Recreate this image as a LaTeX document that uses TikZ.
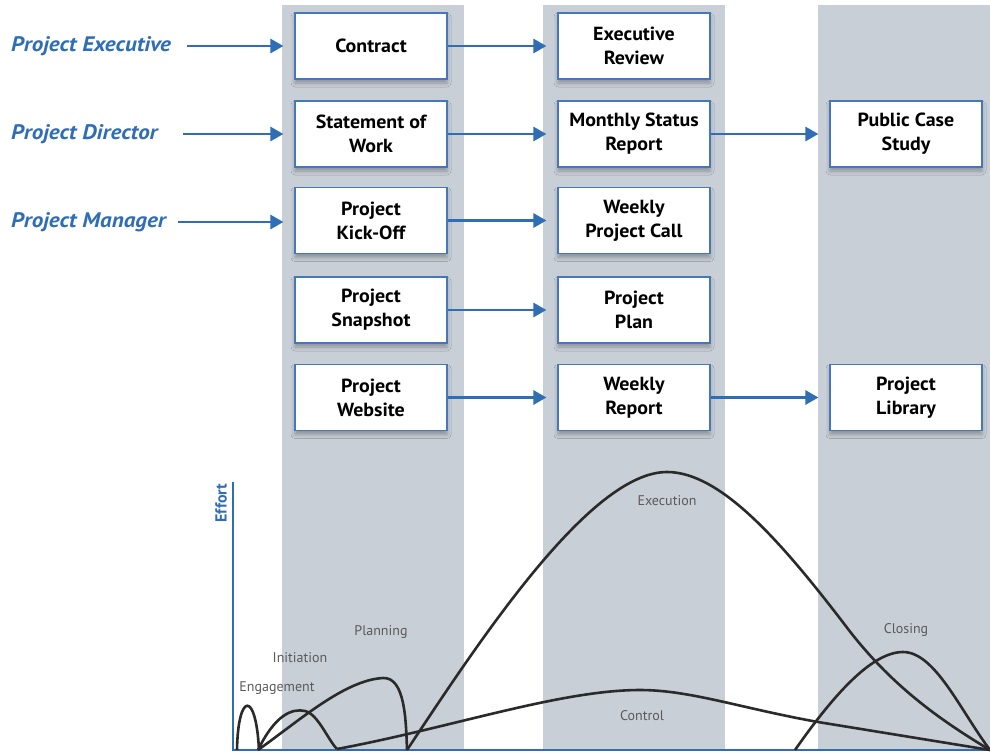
\documentclass[tikz,border=0pt]{standalone}
\usepackage{fontspec}
\setmainfont{PT Sans}
\newfontfamily\rolefont[FakeStretch=1.1]{PT Sans}
\newfontfamily\boxfont[FakeStretch=1.05]{PT Sans}
\usetikzlibrary{arrows.meta,shadows.blur}
\definecolor{band}{HTML}{C9CFD7}
\definecolor{bblue}{HTML}{2F6DB5}
\definecolor{boxline}{HTML}{4677BD}
\definecolor{curve}{HTML}{2A2A2A}
\definecolor{lbl}{HTML}{5A5A5A}
\tikzset{
  box/.style={draw=boxline, line width=1.2pt, fill=white, minimum width=152pt,
    minimum height=66pt, inner sep=0pt, align=center,
    font=\boxfont\fontsize{19}{24}\selectfont\bfseries,
    blur shadow={shadow xshift=0pt, shadow yshift=-4pt, shadow blur radius=4pt, shadow opacity=30}},
  arr/.style={draw=bblue, line width=2.8pt, -{Triangle[length=13pt,width=14pt]}, shorten >=11pt},
  role/.style={anchor=west, text=bblue, font=\rolefont\fontsize{21}{23}\selectfont\bfseries\itshape, inner sep=0pt},
  crv/.style={draw=curve, line width=2.6pt},
  phase/.style={text=lbl, font=\fontsize{14}{16}\selectfont, inner sep=0pt},
  axisline/.style={draw=bblue, line width=2.8pt},
}
\begin{document}
\begin{tikzpicture}[x=1pt,y=-1pt]
\useasboundingbox (0,0) rectangle (990,753);
\fill[white] (0,0) rectangle (990,753);
% bands
\fill[band] (282,5) rectangle (464,751);
\fill[band] (543,5) rectangle (725,751);
\fill[band] (818,5) rectangle (990,751);

% role labels
\node[role] (pe) at (11,46) {Project Executive};
\node[role] (pd) at (11,134) {Project Director};
\node[role] (pm) at (11,222) {Project Manager};
\coordinate (s1) at (187,46);
\coordinate (s2) at (183,134);
\coordinate (s3) at (178,222);

% boxes
\node[box] (contract) at (371,46) {Contract};
\node[box] (sow) at (371,134) {Statement of\\Work};
\node[box] (kick) at (371,220.5) {Project\\Kick-Off};
\node[box] (snap) at (371,310) {Project\\Snapshot};
\node[box] (web) at (371,397.5) {Project\\Website};

\node[box] (exec) at (634,46) {Executive\\Review};
\node[box] (month) at (634,134) {Monthly Status\\Report};
\node[box] (wcall) at (634,220.5) {Weekly\\Project Call};
\node[box] (plan) at (634,310) {Project\\Plan};
\node[box] (wrep) at (634,397.5) {Weekly\\Report};

\node[box] (pcs) at (906,134) {Public Case\\Study};
\node[box] (lib) at (906,397.5) {Project\\Library};

% arrows
\draw[arr] (s1) -- (s1 -| contract.west);
\draw[arr] (s2) -- (s2 -| sow.west);
\draw[arr] (s3) -- (s3 -| kick.west);
\draw[arr] (contract.east) -- (exec.west);
\draw[arr] (sow.east) -- (month.west);
\draw[arr] (month.east) -- (pcs.west);
\draw[arr] (kick.east) -- (kick.east -| wcall.west);
\draw[arr] (snap.east) -- (plan.west);
\draw[arr] (web.east) -- (wrep.west);
\draw[arr] (wrep.east) -- (lib.west);

% axes
\coordinate (o) at (233,750);
\coordinate (ytop) at (233,482);
\coordinate (xend) at (990,750);
\draw[axisline] (ytop) -- (o) -- (xend);
\node[rotate=90, text=bblue, font=\fontsize{16}{17}\selectfont\bfseries, inner sep=0pt] (eff) at (221,503) {Effort};

% curves
\draw[crv] (237,750) .. controls (238,692) and (256,690) .. (259,750);
\draw[crv] (258,750) .. controls (275,715) and (292,708) .. (305,711) .. controls (318,714) and (328,740) .. (337,749);
\draw[crv] (258,750) .. controls (300,720) and (345,680) .. (383,678) .. controls (405,677) and (406,720) .. (407,750);
\draw[crv] (337,749) .. controls (450,728) and (560,690) .. (640,690) .. controls (690,690) and (740,708) .. (818,722) -- (990,750);
\draw[crv] (407,750) .. controls (480,640) and (590,472) .. (667,472) .. controls (720,472) and (780,540) .. (845,625) .. controls (890,685) and (940,720) .. (990,750);
\draw[crv] (795,750) .. controls (830,700) and (870,652) .. (903,652) .. controls (935,652) and (960,710) .. (990,750);

% phase labels
\node[phase] (lexe) at (667,501) {Execution};
\node[phase] (lctl) at (642,716) {Control};
\node[phase] (lclo) at (906,630) {Closing};
\node[phase] (lpla) at (381,632) {Planning};
\node[phase] (lini) at (300,658) {Initiation};
\node[phase] (leng) at (277,688) {Engagement};
\end{tikzpicture}
\end{document}
